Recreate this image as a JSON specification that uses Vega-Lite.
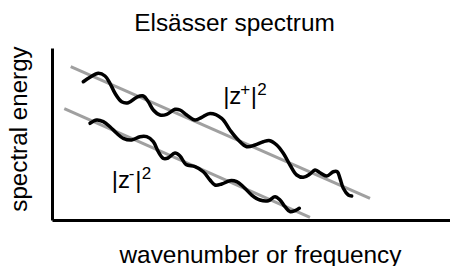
{
  "$schema": "https://vega.github.io/schema/vega-lite/v6.json",
  "autosize": "none",
  "padding": {"left": 52, "top": 48, "right": 0, "bottom": 46},
  "width": 398,
  "height": 172,
  "background": "white",
  "config": {"view": {"stroke": null}},
  "title": {"text": "Elsässer spectrum", "font": "Liberation Sans", "fontSize": 24.4, "fontWeight": "normal", "color": "black", "anchor": "middle", "frame": "group", "baseline": "alphabetic", "offset": -10, "dx": -16.5},
  "datasets": {
    "fits": [
      {"series": "z+", "k": 4.70, "E": 89.13},
      {"series": "z+", "k": 79.90, "E": 12.62},
      {"series": "z-", "k": 3.09, "E": 64.71},
      {"series": "z-", "k": 64.82, "E": 1.57}
    ],
    "spectra": [
      {"series": "z+", "k": 7.86, "E": 80.41},
      {"series": "z+", "k": 9.55, "E": 82.97},
      {"series": "z+", "k": 11.63, "E": 85.29},
      {"series": "z+", "k": 13.32, "E": 83.72},
      {"series": "z+", "k": 14.57, "E": 79.48},
      {"series": "z+", "k": 15.83, "E": 73.66},
      {"series": "z+", "k": 17.51, "E": 68.78},
      {"series": "z+", "k": 19.17, "E": 68.20},
      {"series": "z+", "k": 21.28, "E": 71.34},
      {"series": "z+", "k": 22.94, "E": 72.09},
      {"series": "z+", "k": 24.20, "E": 68.78},
      {"series": "z+", "k": 25.45, "E": 63.95},
      {"series": "z+", "k": 27.14, "E": 61.05},
      {"series": "z+", "k": 28.82, "E": 61.45},
      {"series": "z+", "k": 30.90, "E": 64.36},
      {"series": "z+", "k": 32.16, "E": 63.95},
      {"series": "z+", "k": 33.84, "E": 61.05},
      {"series": "z+", "k": 35.93, "E": 58.14},
      {"series": "z+", "k": 37.61, "E": 59.71},
      {"series": "z+", "k": 39.70, "E": 61.92},
      {"series": "z+", "k": 42.64, "E": 59.13},
      {"series": "z+", "k": 44.72, "E": 52.33},
      {"series": "z+", "k": 46.81, "E": 46.51},
      {"series": "z+", "k": 48.92, "E": 42.62},
      {"series": "z+", "k": 51.01, "E": 43.60},
      {"series": "z+", "k": 53.09, "E": 45.52},
      {"series": "z+", "k": 54.77, "E": 46.10},
      {"series": "z+", "k": 56.46, "E": 43.60},
      {"series": "z+", "k": 58.12, "E": 38.78},
      {"series": "z+", "k": 59.80, "E": 31.98},
      {"series": "z+", "k": 61.48, "E": 26.16},
      {"series": "z+", "k": 63.14, "E": 24.83},
      {"series": "z+", "k": 64.82, "E": 26.74},
      {"series": "z+", "k": 66.08, "E": 29.07},
      {"series": "z+", "k": 67.34, "E": 27.50},
      {"series": "z+", "k": 69.02, "E": 25.58},
      {"series": "z+", "k": 70.68, "E": 28.08},
      {"series": "z+", "k": 71.68, "E": 28.08},
      {"series": "z+", "k": 72.36, "E": 24.24},
      {"series": "z+", "k": 73.19, "E": 18.43},
      {"series": "z+", "k": 74.45, "E": 14.53},
      {"series": "z+", "k": 75.30, "E": 13.95},
      {"series": "z-", "k": 9.55, "E": 56.22},
      {"series": "z-", "k": 11.23, "E": 58.14},
      {"series": "z-", "k": 12.89, "E": 57.15},
      {"series": "z-", "k": 14.57, "E": 54.24},
      {"series": "z-", "k": 16.26, "E": 50.41},
      {"series": "z-", "k": 17.91, "E": 47.50},
      {"series": "z-", "k": 20.03, "E": 46.51},
      {"series": "z-", "k": 22.11, "E": 48.43},
      {"series": "z-", "k": 23.79, "E": 48.43},
      {"series": "z-", "k": 25.45, "E": 45.52},
      {"series": "z-", "k": 26.71, "E": 39.71},
      {"series": "z-", "k": 27.96, "E": 35.87},
      {"series": "z-", "k": 29.15, "E": 36.05},
      {"series": "z-", "k": 30.90, "E": 38.95},
      {"series": "z-", "k": 32.16, "E": 37.21},
      {"series": "z-", "k": 33.67, "E": 32.27},
      {"series": "z-", "k": 35.93, "E": 30.99},
      {"series": "z-", "k": 38.02, "E": 28.08},
      {"series": "z-", "k": 39.70, "E": 23.26},
      {"series": "z-", "k": 40.95, "E": 20.35},
      {"series": "z-", "k": 42.64, "E": 20.93},
      {"series": "z-", "k": 44.72, "E": 22.85},
      {"series": "z-", "k": 46.41, "E": 22.27},
      {"series": "z-", "k": 48.07, "E": 19.36},
      {"series": "z-", "k": 50.18, "E": 14.53},
      {"series": "z-", "k": 52.26, "E": 11.63},
      {"series": "z-", "k": 54.35, "E": 11.22},
      {"series": "z-", "k": 56.03, "E": 13.55},
      {"series": "z-", "k": 57.29, "E": 11.63},
      {"series": "z-", "k": 58.54, "E": 7.73},
      {"series": "z-", "k": 59.80, "E": 4.83},
      {"series": "z-", "k": 61.06, "E": 5.41},
      {"series": "z-", "k": 62.14, "E": 6.80}
    ],
    "labels": [
      {"series": "z+", "base": "|z", "sign": "+", "bar": "|", "power": "2", "k": 43.0, "E": 67.44},
      {"series": "z-", "base": "|z", "sign": "-", "bar": "|", "power": "2", "k": 15.0, "E": 18.6}
    ]
  },
  "layer": [
    {
      "data": {"name": "fits"},
      "mark": {"type": "line", "color": "#a0a0a0", "strokeWidth": 3, "strokeCap": "butt"},
      "encoding": {
        "x": {"field": "k", "type": "quantitative", "scale": {"domain": [0, 100], "nice": false, "zero": false},
              "axis": {"domain": true, "domainColor": "black", "domainWidth": 3, "ticks": false, "labels": false, "grid": false,
                       "title": "wavenumber or frequency", "titleFont": "Liberation Sans", "titleFontSize": 24.4, "titleFontWeight": "normal", "titleColor": "black",
                       "titleX": 208, "titleY": 42, "titleBaseline": "alphabetic", "titleAlign": "center"}},
        "y": {"field": "E", "type": "quantitative", "scale": {"domain": [0, 100], "nice": false, "zero": false},
              "axis": {"domain": true, "domainColor": "black", "domainWidth": 3, "ticks": false, "labels": false, "grid": false,
                       "title": "spectral energy", "titleFont": "Liberation Sans", "titleFontSize": 24.2, "titleFontWeight": "normal", "titleColor": "black",
                       "titleX": -26, "titleY": 80.5, "titleAngle": 270, "titleBaseline": "alphabetic", "titleAlign": "center"}},
        "detail": {"field": "series", "type": "nominal"}
      }
    },
    {
      "data": {"name": "spectra"},
      "mark": {"type": "line", "color": "black", "strokeWidth": 3.5, "interpolate": "catmull-rom", "strokeCap": "round"},
      "encoding": {
        "x": {"field": "k", "type": "quantitative"},
        "y": {"field": "E", "type": "quantitative"},
        "detail": {"field": "series", "type": "nominal"}
      }
    },
    {
      "data": {"name": "labels"},
      "mark": {"type": "text", "font": "Liberation Sans", "fontSize": 24, "align": "left", "baseline": "alphabetic", "color": "black"},
      "encoding": {
        "x": {"field": "k", "type": "quantitative"},
        "y": {"field": "E", "type": "quantitative"},
        "text": {"field": "base", "type": "nominal"}
      }
    },
    {
      "data": {"name": "labels"},
      "mark": {"type": "text", "font": "Liberation Sans", "fontSize": 17, "align": "left", "baseline": "alphabetic", "color": "black", "dx": 17, "dy": -9},
      "encoding": {
        "x": {"field": "k", "type": "quantitative"},
        "y": {"field": "E", "type": "quantitative"},
        "text": {"field": "sign", "type": "nominal"}
      }
    },
    {
      "data": {"name": "labels"},
      "transform": [{"filter": "datum.series === 'z+'"}],
      "mark": {"type": "text", "font": "Liberation Sans", "fontSize": 24, "align": "left", "baseline": "alphabetic", "color": "black", "dx": 27.5},
      "encoding": {
        "x": {"field": "k", "type": "quantitative"},
        "y": {"field": "E", "type": "quantitative"},
        "text": {"field": "bar", "type": "nominal"}
      }
    },
    {
      "data": {"name": "labels"},
      "transform": [{"filter": "datum.series === 'z-'"}],
      "mark": {"type": "text", "font": "Liberation Sans", "fontSize": 24, "align": "left", "baseline": "alphabetic", "color": "black", "dx": 23.5},
      "encoding": {
        "x": {"field": "k", "type": "quantitative"},
        "y": {"field": "E", "type": "quantitative"},
        "text": {"field": "bar", "type": "nominal"}
      }
    },
    {
      "data": {"name": "labels"},
      "transform": [{"filter": "datum.series === 'z+'"}],
      "mark": {"type": "text", "font": "Liberation Sans", "fontSize": 17, "align": "left", "baseline": "alphabetic", "color": "black", "dx": 34, "dy": -9},
      "encoding": {
        "x": {"field": "k", "type": "quantitative"},
        "y": {"field": "E", "type": "quantitative"},
        "text": {"field": "power", "type": "nominal"}
      }
    },
    {
      "data": {"name": "labels"},
      "transform": [{"filter": "datum.series === 'z-'"}],
      "mark": {"type": "text", "font": "Liberation Sans", "fontSize": 17, "align": "left", "baseline": "alphabetic", "color": "black", "dx": 30, "dy": -9},
      "encoding": {
        "x": {"field": "k", "type": "quantitative"},
        "y": {"field": "E", "type": "quantitative"},
        "text": {"field": "power", "type": "nominal"}
      }
    }
  ]
}
